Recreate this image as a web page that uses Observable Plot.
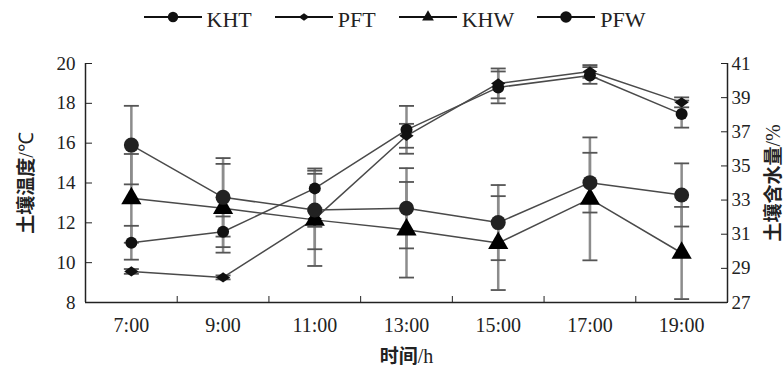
<!DOCTYPE html>
<html>
<head>
<meta charset="utf-8">
<script src="https://cdn.jsdelivr.net/npm/d3@7"></script>
<script src="https://cdn.jsdelivr.net/npm/@observablehq/plot@0.6"></script>
<style>
  html, body { margin: 0; padding: 0; background: #fff; }
  #wrap { width: 783px; height: 375px; overflow: hidden; }
  #legend { height: 34px; display: flex; justify-content: center; align-items: center; gap: 23px; padding-left: 6px; box-sizing: border-box; }
  #legend .item { display: flex; align-items: center; }
  #legend .item span { font-family: "Liberation Serif", serif; font-size: 22px; color: #222; margin-left: 5px; position: relative; top: 3px; }
  #legend svg { display: block; }
</style>
</head>
<body>
<div id="wrap">
  <div id="legend"></div>
  <div id="chart"></div>
</div>
<script>
// ---- data ----
const times = ["7:00", "9:00", "11:00", "13:00", "15:00", "17:00", "19:00"];
const seriesNames = ["KHT", "PFT", "KHW", "PFW"];

// soil temperature (°C, left axis)
const khtTemp = [11.0, 11.55, 13.73, 16.67, 18.8, 19.4, 17.46];
const khtErr  = [0.85, 0.77, 1.0, 1.2, 0.8, 0.42, 0.68];
const pftTemp = [9.56, 9.26, 12.2, 16.37, 19.0, 19.6, 18.05];
const pftErr  = [0.12, 0.1, 0.4, 0.6, 0.75, 0.32, 0.25];

// soil water content (%, right axis)
const khwWater = [33.1, 32.52, 31.84, 31.26, 30.48, 33.07, 29.9];
const khwErr   = [2.6, 2.6, 2.7, 2.8, 2.75, 3.6, 2.7];
const pfwWater = [36.22, 33.16, 32.42, 32.52, 31.68, 34.02, 33.3];
const pfwErr   = [2.3, 2.3, 2.3, 2.35, 2.2, 1.75, 1.85];

// axis ticks
const tempTicks = [8, 10, 12, 14, 16, 18, 20];
const waterTicks = [27, 29, 31, 33, 35, 37, 39, 41];

const xLabel = "时间/h";
const yLeftLabel = "土壤温度/℃";
const yRightLabel = "土壤含水量/%";

// ---- mapping of the right axis onto the left scale ----
const T0 = tempTicks[0], T1 = tempTicks[tempTicks.length - 1];
const W0 = waterTicks[0], W1 = waterTicks[waterTicks.length - 1];
const toT = w => T0 + (w - W0) * (T1 - T0) / (W1 - W0);
const toW = t => W0 + (t - T0) * (W1 - W0) / (T1 - T0);

// custom symbols
const wideDiamond = {
  draw(ctx, size) {
    const k = Math.sqrt(size / 0.7);
    ctx.moveTo(-0.7 * k, 0);
    ctx.lineTo(0, -0.5 * k);
    ctx.lineTo(0.7 * k, 0);
    ctx.lineTo(0, 0.5 * k);
    ctx.closePath();
  }
};
const capSymbol = {
  draw(ctx, size) {
    const w = 7.5;
    ctx.moveTo(-w, 0);
    ctx.lineTo(w, 0);
  }
};

const series = [
  {name: seriesNames[0], values: khtTemp, errors: khtErr, water: false, symbol: "circle", r: 6, fill: "#111", legSym: d3.symbolCircle, legSize: 85},
  {name: seriesNames[1], values: pftTemp, errors: pftErr, water: false, symbol: wideDiamond, r: 4.8, fill: "#111", legSym: wideDiamond, legSize: 40},
  {name: seriesNames[2], values: khwWater, errors: khwErr, water: true, symbol: "triangle", r: 7.5, fill: "#000", legSym: d3.symbolTriangle, legSize: 60},
  {name: seriesNames[3], values: pfwWater, errors: pfwErr, water: true, symbol: "circle", r: 7.5, fill: "#222", legSym: d3.symbolCircle, legSize: 105}
];

const rows = series.flatMap(s => s.values.map((v, i) => {
  const f = s.water ? toT : (x => x);
  return {series: s.name, i, v: f(v), lo: f(v - s.errors[i]), hi: f(v + s.errors[i])};
}));

// ---- legend ----
const legend = d3.select("#legend");
series.forEach(s => {
  const item = legend.append("div").attr("class", "item");
  const svg = item.append("svg").attr("width", 58).attr("height", 20);
  svg.append("line").attr("x1", 0).attr("x2", 58).attr("y1", 10).attr("y2", 10)
    .attr("stroke", "#111").attr("stroke-width", 2);
  svg.append("path").attr("transform", "translate(29,10)")
    .attr("d", d3.symbol(s.legSym, s.legSize)()).attr("fill", "#111");
  item.append("span").text(s.name);
});

// ---- chart ----
const idx = d3.range(times.length);
const boundaries = d3.range(times.length - 1).map(i => i + 0.5);
const H = 341;

const marks = [
  // error bars
  Plot.ruleX(rows, {x: "i", y1: "lo", y2: "hi", stroke: "#8c8c8c", strokeWidth: 2.5}),
  Plot.dot(rows, {x: "i", y: "lo", symbol: capSymbol, r: 5, fill: "none", stroke: "#555", strokeWidth: 1.8}),
  Plot.dot(rows, {x: "i", y: "hi", symbol: capSymbol, r: 5, fill: "none", stroke: "#555", strokeWidth: 1.8}),
  // lines
  Plot.line(rows, {x: "i", y: "v", z: "series", stroke: "#4a4a4a", strokeWidth: 1.5}),
  // markers
  ...series.map(s => Plot.dot(rows.filter(d => d.series === s.name),
    {x: "i", y: "v", symbol: s.symbol, r: s.r, fill: s.fill, stroke: "none"})),
  // axes lines
  Plot.ruleY([T0], {stroke: "#222", strokeWidth: 1.5}),
  Plot.ruleX([-0.5, times.length - 0.5], {stroke: "#222", strokeWidth: 1.5}),
  // x axis
  Plot.axisX({ticks: idx, tickFormat: i => times[i], tickSize: 0, tickPadding: 15, fontSize: 20,
    label: xLabel, labelAnchor: "center", labelOffset: 60, labelArrow: "none", fill: "#222"}),
  Plot.axisX({ticks: boundaries, tickFormat: () => "", tickSize: -6, label: null, stroke: "#222"}),
  // left axis
  Plot.axisY({anchor: "left", ticks: tempTicks, tickSize: -7, tickPadding: 17, stroke: "#222", fill: "#222",
    label: yLeftLabel, labelAnchor: "center", labelOffset: 66, labelArrow: "none"}),
  // right axis
  Plot.axisY({anchor: "right", ticks: waterTicks.map(toT), tickFormat: t => String(Math.round(toW(t))),
    tickSize: -7, tickPadding: 11, stroke: "#222", fill: "#222",
    label: yRightLabel, labelAnchor: "center", labelOffset: 52, labelArrow: "none"})
];

const plot = Plot.plot({
  width: 783,
  height: H,
  marginTop: 29,
  marginBottom: 73,
  marginLeft: 85,
  marginRight: 56,
  x: {type: "linear", domain: [-0.5, times.length - 0.5]},
  y: {domain: [T0, T1]},
  style: {fontFamily: "Liberation Serif, serif", fontSize: "19px", background: "#fff", color: "#222", overflow: "visible"},
  marks
});
document.getElementById("chart").appendChild(plot);

// style axis titles: bold CJK + regular serif suffix
function restyle(label) {
  d3.select(plot).selectAll("text").each(function() {
    if (this.textContent === label) {
      const el = d3.select(this);
      const cut = label.indexOf("/");
      el.text(null);
      el.append("tspan").text(label.slice(0, cut))
        .attr("font-family", "Noto Sans CJK SC").attr("font-weight", "bold").attr("font-size", "19px");
      el.append("tspan").text(label.slice(cut))
        .attr("font-family", "Liberation Serif").attr("font-size", "20px");
    }
  });
}
[xLabel, yLeftLabel, yRightLabel].forEach(restyle);
</script>
</body>
</html>
